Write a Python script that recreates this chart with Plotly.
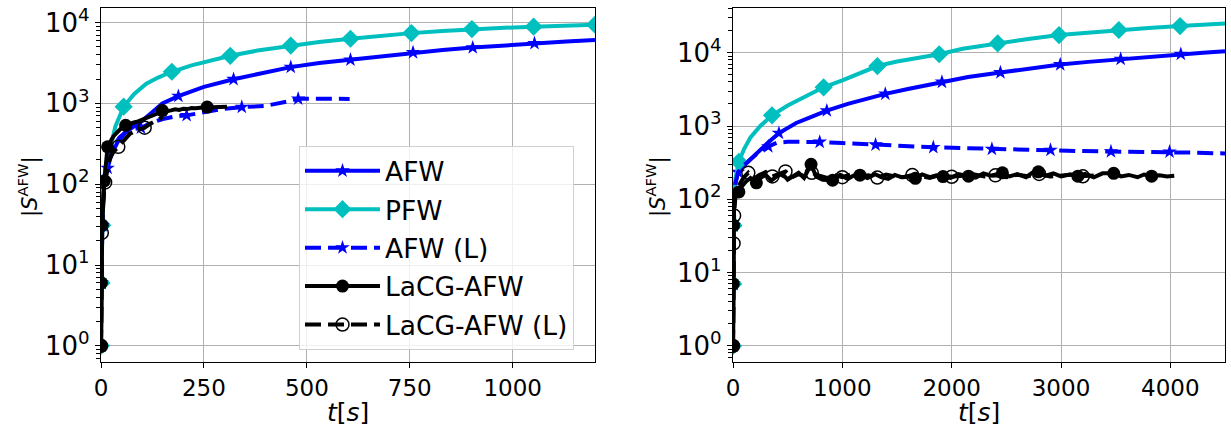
import plotly.graph_objects as go

# ---------------- data ----------------
# Left panel
L_afw_t = [0, 1, 3, 6, 10, 16, 25, 40, 60, 80, 97, 125, 149, 188, 250, 322, 400, 461, 530, 606, 680, 758, 830, 903, 980, 1053, 1130, 1200]
L_afw_v = [1, 6, 31, 80, 120, 158, 230, 330, 440, 520, 590, 780, 1000, 1230, 1600, 1990, 2420, 2810, 3150, 3460, 3850, 4260, 4580, 4900, 5230, 5540, 5830, 6100]
L_afw_mk = [0, 1, 3, 16, 188, 322, 461, 606, 758, 903, 1053]

L_pfw_t = [0, 1, 3, 6, 10, 16, 24, 35, 55, 80, 110, 140, 172, 220, 270, 314, 380, 461, 530, 606, 680, 754, 830, 901, 980, 1051, 1130, 1200]
L_pfw_v = [1, 6, 31, 90, 150, 220, 300, 520, 910, 1300, 1750, 2100, 2460, 2950, 3450, 3880, 4500, 5190, 5750, 6300, 6850, 7400, 7850, 8300, 8600, 8900, 9150, 9400]
L_pfw_mk = [0, 1, 3, 55, 172, 314, 461, 606, 754, 901, 1051, 1200]

L_afwl_t = [0, 1, 3, 8, 16, 30, 45, 60, 80, 97, 125, 150, 180, 208, 250, 300, 342, 400, 450, 479, 520, 560, 604]
L_afwl_v = [1, 6, 31, 110, 170, 290, 380, 440, 480, 500, 580, 640, 690, 710, 780, 860, 900, 930, 1050, 1140, 1140, 1130, 1135]
L_afwl_mk = [0, 1, 3, 97, 208, 342, 479]

L_lacg_t = [0, 1, 3, 8, 16, 22, 30, 38, 45, 52, 60, 70, 80, 90, 100, 110, 120, 130, 140, 149, 160, 170, 180, 190, 200, 210, 220, 230, 240, 250, 258, 270, 280, 290, 306]
L_lacg_v = [1, 6, 31, 110, 290, 330, 390, 430, 470, 510, 535, 550, 580, 600, 630, 650, 680, 720, 760, 815, 800, 820, 845, 830, 860, 850, 875, 870, 885, 880, 900, 895, 905, 900, 910]
L_lacg_mk = [0, 1, 3, 8, 16, 60, 149, 258]

L_lacgl_t = [0, 1, 2, 5, 10, 20, 30, 42, 55, 70, 85, 106, 120, 135, 150]
L_lacgl_v = [1, 6, 25, 60, 105, 200, 250, 290, 350, 420, 460, 500, 560, 620, 680]
L_lacgl_mk = [0, 2, 10, 42, 106]

# Right panel
R_afw_t = [0, 2, 5, 10, 20, 46, 100, 152, 243, 319, 420, 578, 700, 858, 1050, 1200, 1393, 1600, 1911, 2150, 2446, 2700, 2993, 3250, 3546, 3800, 4096, 4300, 4500]
R_afw_v = [1, 7, 44, 100, 160, 235, 290, 345, 470, 590, 800, 1100, 1300, 1620, 2000, 2300, 2740, 3200, 3990, 4650, 5370, 6050, 6910, 7500, 8190, 8800, 9570, 10000, 10500]
R_afw_mk = [0, 2, 5, 46, 420, 858, 1393, 1911, 2446, 2993, 3546, 4096]

R_pfw_t = [0, 2, 5, 10, 20, 54, 100, 160, 250, 357, 500, 650, 829, 1000, 1150, 1321, 1500, 1700, 1886, 2100, 2421, 2700, 2982, 3250, 3529, 3800, 4089, 4300, 4500]
R_pfw_v = [1, 7, 44, 100, 180, 325, 480, 700, 1000, 1400, 1900, 2500, 3370, 4200, 5200, 6580, 7600, 8600, 9530, 11300, 13400, 15400, 17400, 18900, 20400, 21800, 23100, 24100, 25100]
R_pfw_mk = [0, 2, 5, 54, 357, 829, 1321, 1886, 2421, 2982, 3529, 4089]

R_afwl_t = [0, 2, 5, 10, 20, 46, 100, 152, 243, 323, 400, 500, 650, 793, 1000, 1304, 1600, 1832, 2100, 2368, 2650, 2904, 3200, 3457, 3700, 3993, 4250, 4500]
R_afwl_v = [1, 7, 44, 100, 160, 235, 290, 345, 450, 525, 590, 610, 610, 605, 585, 555, 530, 512, 500, 485, 478, 470, 455, 448, 445, 445, 432, 422]
R_afwl_mk = [0, 2, 5, 323, 793, 1304, 1832, 2368, 2904, 3457, 3993]

R_lacg_t = [0, 2, 5, 10, 20, 40, 54, 80, 120, 160, 214, 260, 300, 350, 400, 450, 500, 550, 600, 650,
            714, 760, 820, 911, 980, 1050, 1100, 1161, 1230, 1300, 1360, 1420, 1480, 1540, 1600, 1668, 1730, 1800, 1860, 1921,
            1990, 2060, 2154, 2220, 2290, 2360, 2464, 2530, 2600, 2680, 2750, 2793, 2860, 2930, 3000, 3080, 3154, 3220, 3300, 3380,
            3482, 3550, 3620, 3700, 3760, 3829, 3900, 3970, 4036]
R_lacg_v = [1, 7, 44, 100, 120, 135, 126, 150, 175, 195, 168, 200, 215, 180, 205, 225, 185, 210, 230, 195,
            300, 205, 185, 182, 215, 190, 210, 213, 195, 220, 200, 190, 215, 200, 205, 193, 218, 200, 212, 204,
            195, 220, 207, 198, 225, 210, 230, 205, 220, 200, 238, 237, 210, 225, 205, 218, 207, 222, 200, 226,
            226, 205, 215, 200, 218, 207, 212, 205, 210]
R_lacg_mk = [0, 2, 5, 54, 214, 714, 911, 1161, 1668, 1921, 2154, 2464, 2793, 3154, 3482, 3829]

R_lacgl_t = [0, 2, 5, 10, 20, 40, 70, 100, 140, 190, 240, 300, 360, 420, 480, 540, 600, 660, 720, 790,
             860, 930, 1000, 1080, 1160, 1240, 1320, 1400, 1480, 1560, 1640, 1720, 1800, 1900, 2000, 2100, 2200, 2300, 2400, 2500,
             2600, 2700, 2800, 2900, 3000, 3100, 3200, 3300]
R_lacgl_v = [1, 7, 25, 60, 100, 140, 170, 200, 230, 190, 215, 235, 205, 225, 240, 200, 220, 205, 230, 210,
             195, 215, 200, 220, 205, 212, 198, 218, 205, 200, 214, 207, 196, 215, 203, 210, 220, 205, 212, 200,
             216, 207, 222, 204, 211, 218, 206, 212]
R_lacgl_mk = [0, 5, 10, 140, 360, 480, 720, 1000, 1320, 1640, 2000, 2400, 2800, 3200]

series_names = ["AFW", "PFW", "AFW (L)", "LaCG-AFW", "LaCG-AFW (L)"]
y_tick_vals = [1, 10, 100, 1000, 10000]
y_tick_text = ["10<sup>0</sup>", "10<sup>1</sup>", "10<sup>2</sup>", "10<sup>3</sup>", "10<sup>4</sup>"]
L_x_ticks = [0, 250, 500, 750, 1000]
R_x_ticks = [0, 1000, 2000, 3000, 4000]

# ---------------- styles ----------------
BLUE = "#0000ff"
CYAN = "#00bfbf"
BLACK = "#000000"
DASH = "16px,7px"
styles = {
    "AFW": dict(line=dict(color=BLUE, width=4), marker=dict(symbol="star", size=11, color=BLUE)),
    "PFW": dict(line=dict(color=CYAN, width=4), marker=dict(symbol="diamond", size=14, color=CYAN)),
    "AFW (L)": dict(line=dict(color=BLUE, width=4, dash=DASH), marker=dict(symbol="star", size=11, color=BLUE)),
    "LaCG-AFW": dict(line=dict(color=BLACK, width=4), marker=dict(symbol="circle", size=13, color=BLACK)),
    "LaCG-AFW (L)": dict(line=dict(color=BLACK, width=4, dash=DASH),
                         marker=dict(symbol="circle-open", size=13, color=BLACK, line=dict(width=1.5, color=BLACK))),
}

FONT = "DejaVu Sans"
fig = go.Figure()


def add_series(name, t, v, marks, xa, ya):
    st = styles[name]
    fig.add_trace(go.Scatter(x=t, y=v, mode="lines", line=st["line"], showlegend=False,
                             xaxis=xa, yaxis=ya, hoverinfo="skip"))
    mt = [t[t.index(m)] for m in marks]
    mv = [v[t.index(m)] for m in marks]
    fig.add_trace(go.Scatter(x=mt, y=mv, mode="markers", marker=st["marker"], showlegend=False,
                             xaxis=xa, yaxis=ya, hoverinfo="skip"))


left = [
    ("AFW", L_afw_t, L_afw_v, L_afw_mk),
    ("PFW", L_pfw_t, L_pfw_v, L_pfw_mk),
    ("AFW (L)", L_afwl_t, L_afwl_v, L_afwl_mk),
    ("LaCG-AFW", L_lacg_t, L_lacg_v, L_lacg_mk),
    ("LaCG-AFW (L)", L_lacgl_t, L_lacgl_v, L_lacgl_mk),
]
right = [
    ("AFW", R_afw_t, R_afw_v, R_afw_mk),
    ("PFW", R_pfw_t, R_pfw_v, R_pfw_mk),
    ("AFW (L)", R_afwl_t, R_afwl_v, R_afwl_mk),
    ("LaCG-AFW", R_lacg_t, R_lacg_v, R_lacg_mk),
    ("LaCG-AFW (L)", R_lacgl_t, R_lacgl_v, R_lacgl_mk),
]
for s in left:
    add_series(*s, "x", "y")
for s in right:
    add_series(*s, "x2", "y2")

# legend-only entries
for i, name in enumerate(series_names):
    st = styles[name]
    fig.add_trace(go.Scatter(x=[None], y=[None], mode="lines+markers", name=name,
                             line=st["line"], marker=st["marker"], legendgroup=name,
                             xaxis="x", yaxis="y"))

W, H = 1231, 427
def px_x(p):
    return p / W
def px_y(p):
    return (H - p) / H

minor_vals = [m * 10 ** k for k in range(-1, 5) for m in range(2, 10)]

common_x = dict(ticks="outside", ticklen=5, tickwidth=1.2, tickcolor="black", automargin=False,
                showline=True, linecolor="black", linewidth=1.3, mirror=True,
                showgrid=True, gridcolor="#b0b0b0", gridwidth=1.2, zeroline=False,
                tickfont=dict(family=FONT, size=23, color="black"))
common_y = dict(type="log", ticks="outside", ticklen=5, tickwidth=1.2, tickcolor="black", automargin=False,
                showline=True, linecolor="black", linewidth=1.3, mirror=True,
                showgrid=True, gridcolor="#b0b0b0", gridwidth=1.2, zeroline=False,
                tickmode="array", tickvals=y_tick_vals, ticktext=y_tick_text,
                tickfont=dict(family=FONT, size=26, color="black"),
                minor=dict(ticks="outside", ticklen=3.5, tickwidth=1, tickcolor="black",
                           tickmode="array", tickvals=minor_vals, showgrid=False))

fig.update_layout(
    width=W, height=H, autosize=False,
    margin=dict(l=0, r=0, t=0, b=0, autoexpand=False),
    plot_bgcolor="white", paper_bgcolor="white",
    font=dict(family=FONT, color="black"),
    xaxis=dict(domain=[px_x(101), px_x(595)], range=[0, 1200], tickmode="array", tickvals=L_x_ticks,
               anchor="y", **common_x),
    yaxis=dict(domain=[px_y(362), px_y(8)], range=[-0.2, 4.18], anchor="x", **common_y),
    xaxis2=dict(domain=[px_x(733), px_x(1225)], range=[0, 4500], tickmode="array", tickvals=R_x_ticks,
                anchor="y2", **common_x),
    yaxis2=dict(domain=[px_y(362), px_y(8)], range=[-0.22, 4.61], anchor="x2", **common_y),
    legend=dict(x=px_x(299), y=px_y(146), xanchor="left", yanchor="top",
                bgcolor="rgba(255,255,255,0.8)", bordercolor="#d0d0d0", borderwidth=1,
                font=dict(family=FONT, size=26.5, color="black"),
                itemwidth=75, tracegroupgap=1, traceorder="grouped"),
    showlegend=True,
)

ytitle = "|<i>S</i><sup>AFW</sup>|"
xtitle = "<i>t</i>[<i>s</i>]"
for xc in [px_x(28), px_x(656)]:
    fig.add_annotation(x=xc, y=px_y(187), xref="paper", yref="paper", text=ytitle, textangle=-90,
                       showarrow=False, font=dict(family=FONT, size=21, color="black"),
                       xanchor="center", yanchor="middle")
for xc in [px_x(348), px_x(979)]:
    fig.add_annotation(x=xc, y=px_y(412), xref="paper", yref="paper", text=xtitle,
                       showarrow=False, font=dict(family=FONT, size=25, color="black"),
                       xanchor="center", yanchor="middle")

fig.write_html("out.html", config={"displayModeBar": False},
               post_script="document.body.style.margin='0';document.body.style.overflow='hidden';")
